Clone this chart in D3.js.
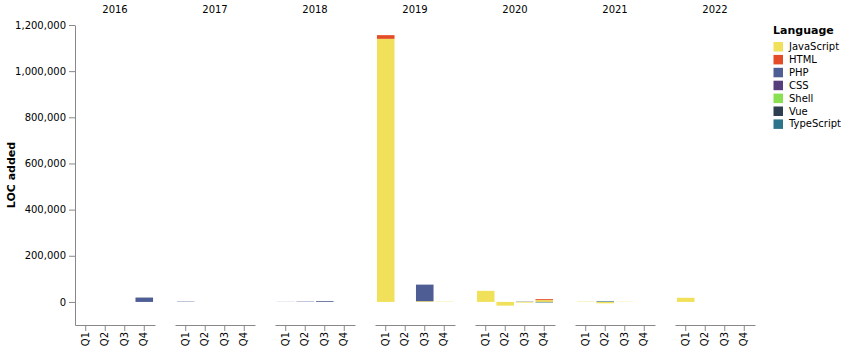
<!DOCTYPE html>
<html>
<head>
<meta charset="utf-8">
<script src="https://cdn.jsdelivr.net/npm/d3@7"></script>
<style>
  body { margin: 0; background: #fff; }
  text { font-family: "DejaVu Sans", sans-serif; }
</style>
</head>
<body>
<div id="chart"></div>
<script>
const years = ["2016", "2017", "2018", "2019", "2020", "2021", "2022"];
const quarters = ["Q1", "Q2", "Q3", "Q4"];
const languages = ["JavaScript", "HTML", "PHP", "CSS", "Shell", "Vue", "TypeScript"];
const langColors = ["#f1e05a", "#e34c26", "#4f5d95", "#563d7c", "#89e051", "#2c3e50", "#2b7489"];
const yTicks = [0, 200000, 400000, 600000, 800000, 1000000, 1200000];

// values per quarter, 2016 Q1 ... 2022 Q4
const jsValues = [
  0, 0, 0, 0,
  0, 0, 0, 0,
  0, 0, 0, 0,
  1140000, 0, 3000, 1200,
  48000, -16000, -3000, 8000,
  1500, -6000, 1000, 0,
  18000, 0, 0, 0
];
const htmlValues = [
  0, 0, 0, 0,
  0, 0, 0, 0,
  0, 0, 0, 0,
  16000, 0, 0, 0,
  0, 0, 0, 4000,
  0, 0, 0, 0,
  0, 0, 0, 0
];
const phpValues = [
  0, 0, 0, 19000,
  1500, 0, 0, 0,
  500, 1500, 3500, 0,
  0, 0, 72000, 0,
  0, 0, 0, 0,
  0, 0, 0, 0,
  0, 0, 0, 0
];
const cssValues = [
  0, 0, 0, 0,
  0, 0, 0, 0,
  0, 0, 0, 0,
  0, 0, 0, 0,
  0, 0, 0, 0,
  0, 0, 0, 0,
  0, 0, 0, 0
];
const shellValues = [
  0, 0, 0, 0,
  0, 0, 0, 0,
  0, 0, 0, 0,
  0, 0, 0, 0,
  0, 0, 0, 0,
  0, 0, 0, 0,
  0, 0, 0, 0
];
const vueValues = [
  0, 0, 0, 0,
  0, 0, 0, 0,
  0, 0, 0, 0,
  0, 0, 0, 0,
  0, 0, 1000, -1000,
  0, 1000, 0, 0,
  0, 0, 0, 0
];
const tsValues = [
  0, 0, 0, 0,
  0, 0, 0, 0,
  0, 0, 0, 0,
  0, 0, 0, 0,
  0, 0, 0, -1500,
  0, 2000, 0, 0,
  0, 0, 0, 0
];
const seriesValues = [jsValues, htmlValues, phpValues, cssValues, shellValues, vueValues, tsValues];

const width = 845, height = 351;
const margin = { top: 25, left: 75 };
const facetW = 80, facetGap = 20, plotH = 300;

const svg = d3.select("#chart").append("svg")
  .attr("width", width)
  .attr("height", height);

const y = d3.scaleLinear().domain([-100000, 1200000]).range([plotH, 0]);
const x = d3.scaleBand().domain(quarters).range([0, facetW]).padding(0.1);
const color = d3.scaleOrdinal().domain(languages).range(langColors);

// stack positives up and negatives down, in legend order
const bars = [];
years.forEach((yr, yi) => {
  quarters.forEach((q, qi) => {
    let pos = 0, neg = 0;
    languages.forEach((lang, li) => {
      const v = seriesValues[li][yi * 4 + qi];
      if (!v) return;
      if (v > 0) { bars.push({ yr, q, lang, y0: pos, y1: pos + v }); pos += v; }
      else { bars.push({ yr, q, lang, y0: neg + v, y1: neg }); neg += v; }
    });
  });
});

const root = svg.append("g").attr("transform", `translate(${margin.left},${margin.top})`);

// y axis on first facet
const yAxis = root.append("g")
  .call(d3.axisLeft(y).tickValues(yTicks).tickFormat(d3.format(",")).tickSizeOuter(0));
yAxis.select(".domain").attr("stroke", "#888");
yAxis.selectAll(".tick line").attr("stroke", "#888");
yAxis.selectAll(".tick text").attr("font-size", 10).attr("fill", "#000").attr("font-family", "DejaVu Sans, sans-serif");

root.append("text")
  .attr("transform", `translate(-60,${plotH / 2}) rotate(-90)`)
  .attr("text-anchor", "middle")
  .attr("font-size", 11)
  .attr("font-weight", "bold")
  .text("LOC added");

years.forEach((yr, yi) => {
  const g = root.append("g")
    .attr("transform", `translate(${yi * (facetW + facetGap)},0)`);

  g.append("text")
    .attr("x", facetW / 2)
    .attr("y", -12)
    .attr("text-anchor", "middle")
    .attr("font-size", 10)
    .text(yr);

  g.selectAll("rect")
    .data(bars.filter(d => d.yr === yr))
    .join("rect")
    .attr("x", d => x(d.q))
    .attr("width", x.bandwidth())
    .attr("y", d => y(d.y1))
    .attr("height", d => y(d.y0) - y(d.y1))
    .attr("fill", d => color(d.lang));

  const xAxis = g.append("g")
    .attr("transform", `translate(0,${plotH})`)
    .call(d3.axisBottom(x).tickSizeOuter(0));
  xAxis.select(".domain").attr("stroke", "#888");
  xAxis.selectAll(".tick line").attr("stroke", "#888");
  xAxis.selectAll(".tick text")
    .attr("font-size", 10)
    .attr("fill", "#000")
    .attr("font-family", "DejaVu Sans, sans-serif")
    .attr("transform", "rotate(-90)")
    .attr("text-anchor", "end")
    .attr("x", -7)
    .attr("y", 0)
    .attr("dy", "0.32em");
});

// legend
const legend = svg.append("g").attr("transform", "translate(773,34)");
legend.append("text")
  .attr("font-size", 11)
  .attr("font-weight", "bold")
  .text("Language");
const items = legend.selectAll("g.item")
  .data(languages)
  .join("g")
  .attr("class", "item")
  .attr("transform", (d, i) => `translate(0,${12.9 * i + 12.5})`);
items.append("rect")
  .attr("x", 0.5).attr("y", -4.5)
  .attr("width", 9.5).attr("height", 9.5)
  .attr("fill", d => color(d));
items.append("text")
  .attr("x", 16)
  .attr("dy", "0.35em")
  .attr("font-size", 10)
  .text(d => d);
</script>
</body>
</html>
